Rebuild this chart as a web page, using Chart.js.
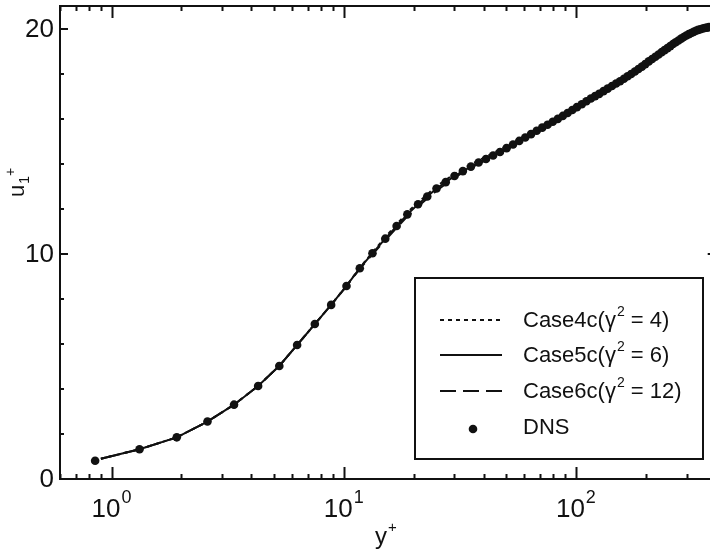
<!DOCTYPE html>
<html><head><meta charset="utf-8">
<script src="https://cdn.jsdelivr.net/npm/chart.js@4.4.1/dist/chart.umd.min.js"></script>
<style>
html,body{margin:0;padding:0;background:#fff;overflow:hidden;width:710px;height:552px}
canvas{display:block}
</style>
</head><body>
<canvas id="c" width="720" height="552" style="width:720px;height:552px"></canvas>
<script>
// ---- data ----
const dnsYplus = [0.85,1.32,1.91,2.59,3.37,4.28,5.28,6.30,7.51,8.83,10.28,11.73,13.3,15.1,16.9,18.8,20.9,22.9,25.1,
  27.5,30.0,32.6,35.3,38.1,41.0,44.0,47.1,50.3,53.6,57.0,60.5,64.1,67.8,71.6,75.5,79.5,83.6,87.8,92.1,96.5,
  101,106,111,116,121,126,131.5,137,143,149,155,161,167,173,179.5,186,192.5,199,206,213,220,227,234,241,248,
  255,262,269,276.5,284,291.5,299,306.5,314,321.5,329,336.5,344,351.5,359,366.5,374,381.5,389,396];
const dnsU = [0.81,1.32,1.85,2.55,3.30,4.13,5.02,5.95,6.88,7.73,8.57,9.36,10.02,10.67,11.23,11.75,12.2,12.54,12.9,
  13.18,13.45,13.67,13.87,14.05,14.21,14.36,14.52,14.69,14.85,15.01,15.16,15.31,15.46,15.6,15.73,15.86,15.99,16.12,16.25,16.38,
  16.51,16.64,16.77,16.89,17.0,17.1,17.22,17.33,17.45,17.56,17.66,17.77,17.88,17.98,18.09,18.2,18.31,18.42,18.54,18.65,18.75,18.85,18.95,19.04,19.13,
  19.22,19.31,19.39,19.47,19.55,19.62,19.69,19.75,19.8,19.85,19.9,19.94,19.97,20.0,20.02,20.04,20.06,20.07,20.08,20.09];

const lineYplus = [0.9,1.32,1.91,2.59,3.37,4.28,5.28,6.3,7.51,8.83,10.28,11.73,13.3,15.1,16.9,18.8,20.9,22.9,25.1,
  30,35,40,50,60,70,80,100,130,165,200,230,260,300,350,400];
const case4cU = [0.9,1.32,1.85,2.55,3.3,4.13,5.02,5.95,6.88,7.73,8.58,9.38,10.06,10.73,11.3,11.83,12.28,12.63,13.0,
  13.55,13.95,14.25,14.76,15.22,15.6,15.95,16.53,17.22,17.86,18.46,18.9,19.3,19.7,20.0,20.1];
const case5cU = [0.9,1.32,1.85,2.55,3.3,4.13,5.02,5.95,6.88,7.73,8.57,9.36,10.02,10.67,11.23,11.75,12.2,12.54,12.9,
  13.45,13.85,14.15,14.68,15.15,15.55,15.9,16.5,17.2,17.85,18.45,18.9,19.3,19.7,20.0,20.1];
const case6cU = [0.9,1.32,1.85,2.55,3.3,4.13,5.02,5.95,6.88,7.73,8.56,9.33,9.98,10.6,11.15,11.66,12.1,12.45,12.8,
  13.38,13.8,14.1,14.64,15.12,15.53,15.88,16.48,17.18,17.84,18.44,18.9,19.3,19.7,20.0,20.1];

const seriesNames = ['Case4c','Case5c','Case6c','DNS'];
const gammaSquared = ['4','6','12'];
const xMajorExponents = [0,1,2];
const yMajorTicks = [0,10,20];
const yMinorTicks = [2,4,6,8,12,14,16,18];
const xTitle = 'y'; const xTitleSup = '+';
const yTitle = 'u'; const yTitleSub = '1'; const yTitleSup = '+';

const FONT = "'Liberation Sans', Arial, Helvetica, sans-serif";
const INK = '#111';

function pts(xs, ys){ return xs.map((v,i)=>({x:v, y:ys[i]})); }

const dashes = {Case4c:[4,4], Case5c:[], Case6c:[16,7]};

const frame = {
  id:'frame',
  afterDraw(chart){
    const {ctx, chartArea:a, scales:{x, y}} = chart;
    ctx.save();
    ctx.strokeStyle = INK; ctx.fillStyle = INK; ctx.lineWidth = 2; ctx.setLineDash([]);
    const seg = (x1,y1,x2,y2)=>{ctx.beginPath();ctx.moveTo(x1,y1);ctx.lineTo(x2,y2);ctx.stroke();};
    // frame
    ctx.strokeRect(a.left, a.top, a.right-a.left, a.bottom-a.top);
    // x ticks (log)
    for (let e=-1; e<=3; e++) for (let m=1; m<=9; m++){
      const v = m*Math.pow(10,e);
      if (v < x.min || v > x.max) continue;
      const px = Math.round(x.getPixelForValue(v))+0.5;
      const len = m===1 ? 12 : 5;
      seg(px, a.bottom, px, a.bottom-len);
      seg(px, a.top, px, a.top+len);
    }
    // y ticks
    yMajorTicks.forEach(v=>{const py=Math.round(y.getPixelForValue(v));
      seg(a.left,py,a.left+8,py); seg(a.right,py,a.right-8,py);});
    yMinorTicks.forEach(v=>{const py=Math.round(y.getPixelForValue(v));
      seg(a.left,py,a.left+4,py); seg(a.right,py,a.right-4,py);});
    // y tick labels
    ctx.font = `26px ${FONT}`; ctx.textAlign='right'; ctx.textBaseline='middle';
    yMajorTicks.forEach(v=>ctx.fillText(String(v), a.left-6, y.getPixelForValue(v)+1));
    // x tick labels 10^n
    ctx.textBaseline='alphabetic';
    xMajorExponents.forEach(e=>{
      const px = x.getPixelForValue(Math.pow(10,e));
      ctx.font = `26px ${FONT}`; const w1 = ctx.measureText('10').width;
      ctx.font = `18px ${FONT}`; const w2 = ctx.measureText(String(e)).width;
      const start = px - (w1+w2+1)/2;
      ctx.textAlign='left';
      ctx.font = `26px ${FONT}`; ctx.fillText('10', start, 517);
      ctx.font = `18px ${FONT}`; ctx.fillText(String(e), start+w1+1, 503);
    });
    // x title
    ctx.textAlign='left';
    ctx.font = `24px ${FONT}`; ctx.fillText(xTitle, 375, 544);
    const wy = ctx.measureText(xTitle).width;
    ctx.font = `15px ${FONT}`; ctx.fillText(xTitleSup, 375+wy+1, 532);
    // y title (rotated)
    ctx.save();
    ctx.translate(24, 197); ctx.rotate(-Math.PI/2);
    ctx.font = `22px ${FONT}`; ctx.fillText(yTitle, 0, 0);
    const wu = ctx.measureText(yTitle).width;
    ctx.font = `14px ${FONT}`; ctx.fillText(yTitleSub, wu+1, 5);
    const w1 = ctx.measureText(yTitleSub).width;
    ctx.fillText(yTitleSup, wu+w1+1, -9);
    ctx.restore();

    // legend
    const L = {l:415, t:278, r:703, b:459};
    ctx.fillStyle='#fff'; ctx.fillRect(L.l, L.t, L.r-L.l, L.b-L.t);
    ctx.fillStyle=INK; ctx.lineWidth=2; ctx.strokeRect(L.l, L.t, L.r-L.l, L.b-L.t);
    const rows = [320, 355, 391, 427];
    chart.data.datasets.forEach(ds=>{
      const i = seriesNames.indexOf(ds.label); const ry = rows[i];
      if (ds.label==='DNS'){
        ctx.beginPath(); ctx.arc(473, ry+2, ds.pointRadius, 0, Math.PI*2); ctx.fill();
        ctx.font = `22px ${FONT}`; ctx.textAlign='left'; ctx.textBaseline='middle';
        ctx.fillText('DNS', 523, ry+1);
      } else {
        ctx.setLineDash(ds.borderDash); ctx.lineWidth = ds.borderWidth;
        seg(440, ry, 502, ry); ctx.setLineDash([]);
        ctx.textBaseline='middle'; ctx.textAlign='left';
        ctx.font = `22px ${FONT}`;
        const p1 = ds.label + '(\u03B3';
        ctx.fillText(p1, 523, ry+1);
        const w = ctx.measureText(p1).width;
        ctx.font = `14px ${FONT}`; ctx.fillText('2', 523+w+1, ry-8);
        const ws = ctx.measureText('2').width;
        ctx.font = `22px ${FONT}`;
        ctx.fillText(' = ' + gammaSquared[i] + ')', 523+w+ws+1, ry+1);
      }
    });
    ctx.restore();
  }
};

const lineDs = (name, ys)=>({label:name, data:pts(lineYplus, ys), showLine:true, pointRadius:0,
  borderColor:INK, borderWidth:2, borderDash:dashes[name], fill:false, tension:0});

new Chart(document.getElementById('c'), {
  type:'scatter',
  data:{datasets:[
    {label:'DNS', data:pts(dnsYplus, dnsU), showLine:false, pointRadius:4.3, pointBackgroundColor:INK,
      pointBorderWidth:0, borderColor:INK, backgroundColor:INK},
    lineDs('Case4c', case4cU),
    lineDs('Case5c', case5cU),
    lineDs('Case6c', case6cU)
  ]},
  options:{
    responsive:false, devicePixelRatio:1, animation:false,
    layout:{padding:{left:60, top:6, right:4, bottom:73}},
    plugins:{legend:{display:false}, tooltip:{enabled:false}},
    scales:{
      x:{type:'logarithmic', min:0.6, max:400, display:false},
      y:{type:'linear', min:0, max:21, display:false}
    }
  },
  plugins:[frame]
});
</script>
</body></html>
